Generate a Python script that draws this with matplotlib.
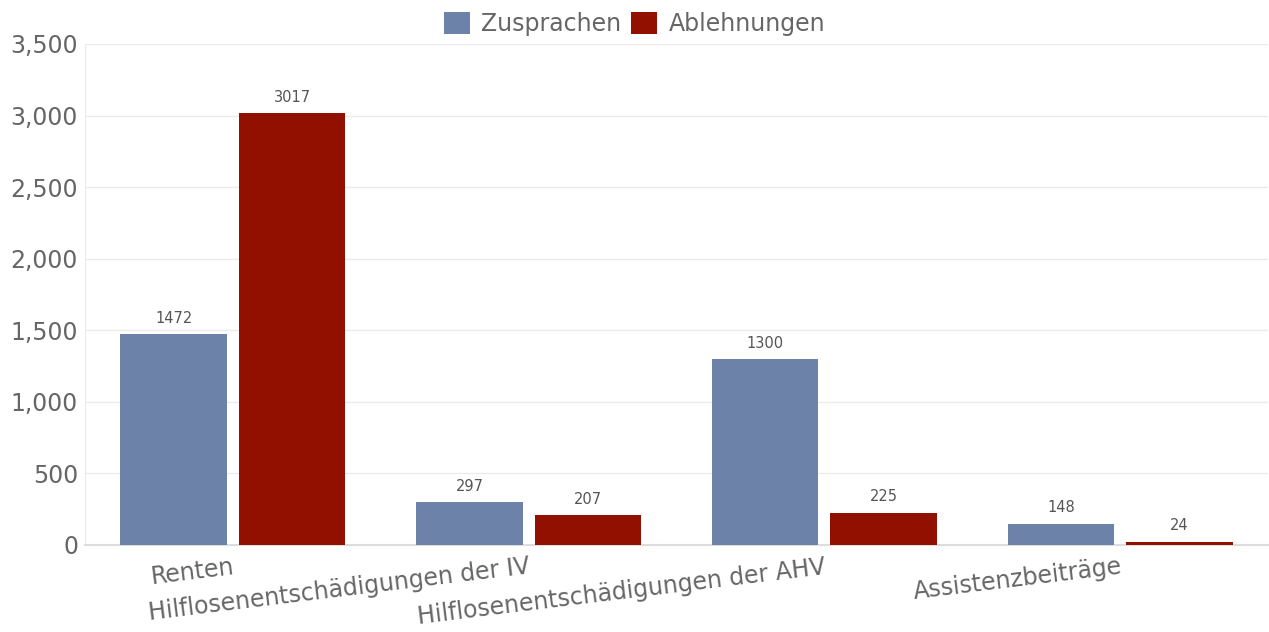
import matplotlib.pyplot as plt
import numpy as np
from matplotlib.ticker import FuncFormatter

categories = ["Renten", "Hilflosenentschädigungen der IV",
              "Hilflosenentschädigungen der AHV", "Assistenzbeiträge"]
zusprachen = [1472, 297, 1300, 148]
ablehnungen = [3017, 207, 225, 24]

blue = "#6d82a8"
red = "#921000"
text_col = "#666666"

fig = plt.figure(figsize=(12.69, 6.32), dpi=100)
ax = fig.add_axes([85 / 1269, 1 - 545 / 632, 1183 / 1269, 501 / 632])

x = np.arange(len(categories))
w = 0.36
b1 = ax.bar(x - 0.2, zusprachen, width=w, color=blue, label="Zusprachen", zorder=3)
b2 = ax.bar(x + 0.2, ablehnungen, width=w, color=red, label="Ablehnungen", zorder=3)

for bars in (b1, b2):
    ax.bar_label(bars, padding=6, fontsize=10.5, color="#555555")

ax.set_xlim(-0.5, 3.5)
ax.set_ylim(0, 3500)
ax.set_yticks(np.arange(0, 3501, 500))
ax.yaxis.set_major_formatter(FuncFormatter(lambda v, p: f"{int(v):,}"))
ax.set_xticks(x)
ax.set_xticklabels(categories, rotation=7, ha="right", rotation_mode="anchor")
ax.tick_params(axis="both", length=0, labelsize=17, colors=text_col)
ax.tick_params(axis="x", pad=7)
ax.tick_params(axis="y", pad=5)
for lbl in ax.get_xticklabels():
    lbl.set_color(text_col)

ax.grid(axis="y", color="#ebebeb", linewidth=1, zorder=0)
for s in ["top", "right"]:
    ax.spines[s].set_visible(False)
ax.spines["left"].set_color("#ebebeb")
ax.spines["bottom"].set_color("#dddddd")
ax.spines["bottom"].set_linewidth(1.5)

handles, labels = ax.get_legend_handles_labels()
leg = fig.legend(handles, labels, loc="center", bbox_to_anchor=(0.5, 1 - 24 / 632), ncol=2,
                 frameon=False, fontsize=17, handlelength=1.1, handleheight=1.1,
                 columnspacing=0.4, handletextpad=0.5)
for t in leg.get_texts():
    t.set_color(text_col)

fig.savefig("out.png", dpi=100)
